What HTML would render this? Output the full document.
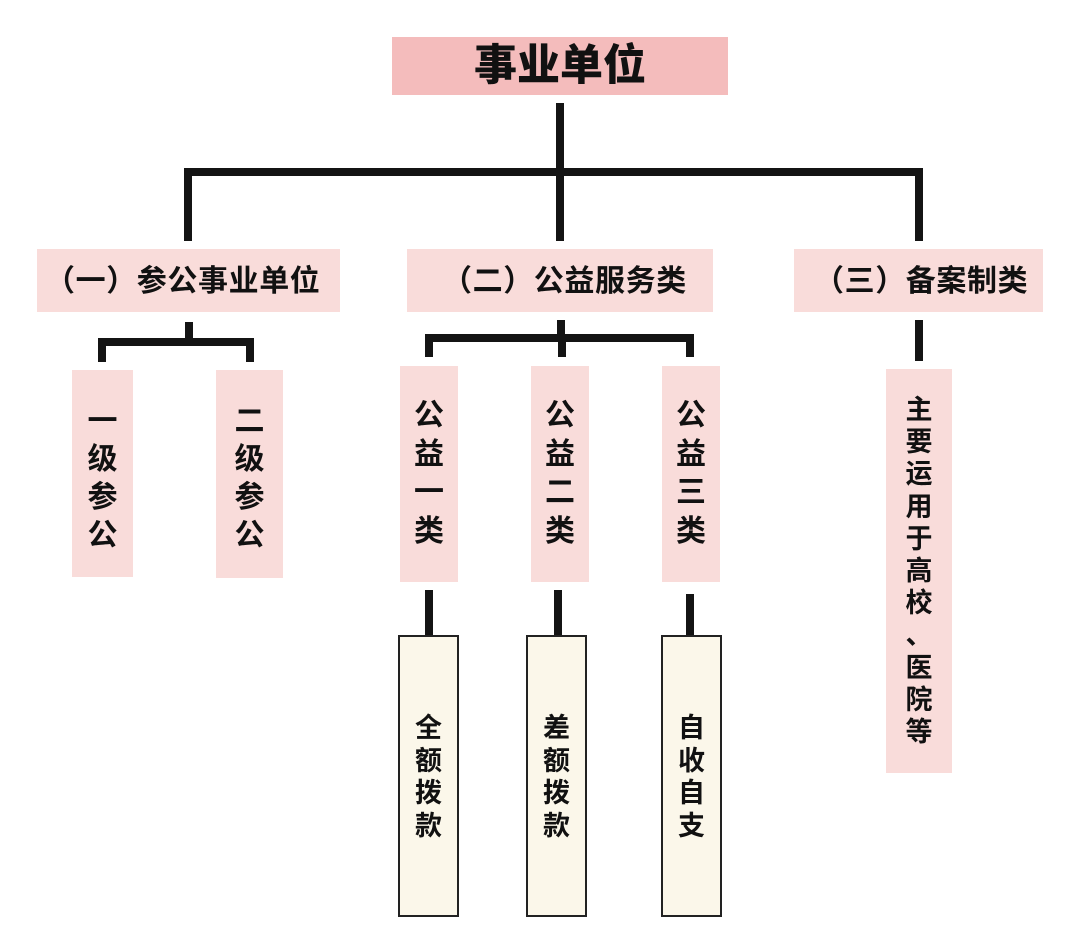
<!DOCTYPE html>
<html>
<head>
<meta charset="utf-8">
<style>
  html,body{margin:0;padding:0;}
  body{width:1080px;height:949px;position:relative;background:#fff;overflow:hidden;
       font-family:"Liberation Sans","Noto Sans CJK SC",sans-serif;font-weight:bold;color:#111;}
  .a{position:absolute;}
  .ln{position:absolute;background:#141414;}
  .pk{position:absolute;background:#f9dcda;}
  .cr{position:absolute;background:#fbf7ea;border:2px solid #222;box-sizing:border-box;}
  .vt{position:absolute;text-align:center;white-space:pre;}
  .ht{position:absolute;white-space:nowrap;font-size:30px;line-height:30px;letter-spacing:0.6px;}
</style>
</head>
<body>
<!-- top box -->
<div class="a" style="left:392px;top:37px;width:336px;height:58px;background:#f4bcbc;"></div>
<div class="a" style="left:392px;top:45px;width:336px;height:43px;font-size:43px;line-height:43px;text-align:center;font-weight:900;">事业单位</div>

<!-- main connectors -->
<div class="ln" style="left:556px;top:103px;width:8px;height:138px;"></div>
<div class="ln" style="left:184px;top:168px;width:739px;height:8px;"></div>
<div class="ln" style="left:184px;top:168px;width:8px;height:73px;"></div>
<div class="ln" style="left:915px;top:168px;width:8px;height:73px;"></div>

<!-- second-level boxes -->
<div class="pk" style="left:37px;top:249px;width:303px;height:63px;"></div>
<div class="ht" style="left:45px;top:267px;">（一）参公事业单位</div>
<div class="pk" style="left:407px;top:249px;width:306px;height:63px;"></div>
<div class="ht" style="left:442px;top:267px;">（二）公益服务类</div>
<div class="pk" style="left:794px;top:249px;width:249px;height:63px;"></div>
<div class="ht" style="left:814px;top:267px;">（三）备案制类</div>

<!-- left sub connectors -->
<div class="ln" style="left:185px;top:322px;width:8px;height:20px;"></div>
<div class="ln" style="left:98px;top:338px;width:156px;height:8px;"></div>
<div class="ln" style="left:98px;top:338px;width:8px;height:24px;"></div>
<div class="ln" style="left:246px;top:338px;width:8px;height:24px;"></div>

<!-- middle sub connectors -->
<div class="ln" style="left:557px;top:320px;width:8px;height:20px;"></div>
<div class="ln" style="left:425px;top:334px;width:269px;height:8px;"></div>
<div class="ln" style="left:425px;top:334px;width:8px;height:23px;"></div>
<div class="ln" style="left:558px;top:334px;width:8px;height:23px;"></div>
<div class="ln" style="left:686px;top:334px;width:8px;height:23px;"></div>

<!-- right sub connector -->
<div class="ln" style="left:915px;top:320px;width:8px;height:41px;"></div>

<!-- 参公 boxes -->
<div class="pk" style="left:72px;top:370px;width:61px;height:207px;"></div>
<div class="vt" style="left:72px;top:403px;width:61px;font-size:30px;line-height:38px;">一
级
参
公</div>
<div class="pk" style="left:216px;top:370px;width:67px;height:208px;"></div>
<div class="vt" style="left:216px;top:403px;width:67px;font-size:30px;line-height:38px;">二
级
参
公</div>

<!-- 公益 boxes -->
<div class="pk" style="left:400px;top:366px;width:58px;height:216px;"></div>
<div class="vt" style="left:400px;top:397px;width:58px;font-size:30px;line-height:38.6px;">公
益
一
类</div>
<div class="pk" style="left:531px;top:366px;width:58px;height:216px;"></div>
<div class="vt" style="left:531px;top:397px;width:58px;font-size:30px;line-height:38.6px;">公
益
二
类</div>
<div class="pk" style="left:662px;top:366px;width:58px;height:216px;"></div>
<div class="vt" style="left:662px;top:397px;width:58px;font-size:30px;line-height:38.6px;">公
益
三
类</div>

<!-- lower connectors -->
<div class="ln" style="left:425px;top:590px;width:8px;height:47px;"></div>
<div class="ln" style="left:554px;top:590px;width:8px;height:47px;"></div>
<div class="ln" style="left:686px;top:594px;width:8px;height:43px;"></div>

<!-- cream boxes -->
<div class="cr" style="left:398px;top:635px;width:61px;height:282px;"></div>
<div class="vt" style="left:398px;top:712px;width:61px;font-size:27px;line-height:32.7px;">全
额
拨
款</div>
<div class="cr" style="left:526px;top:635px;width:61px;height:282px;"></div>
<div class="vt" style="left:526px;top:712px;width:61px;font-size:27px;line-height:32.7px;">差
额
拨
款</div>
<div class="cr" style="left:661px;top:635px;width:61px;height:282px;"></div>
<div class="vt" style="left:661px;top:712px;width:61px;font-size:27px;line-height:32.7px;">自
收
自
支</div>

<!-- right tall box -->
<div class="pk" style="left:886px;top:369px;width:66px;height:404px;"></div>
<div class="vt" style="left:886px;top:394px;width:66px;font-size:27px;line-height:32.2px;">主
要
运
用
于
高
校
、
医
院
等</div>
</body>
</html>
